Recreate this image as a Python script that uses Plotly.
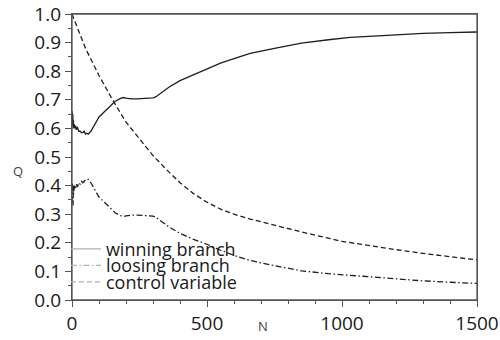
import plotly.graph_objects as go

# ---- data ----
n_win = [0, 1, 2, 3, 4, 5, 6, 8, 10, 13, 16, 20, 25, 30, 35, 40, 45, 50, 55, 60, 70, 80, 90, 100,
         120, 140, 160, 180, 190, 200, 220, 240, 260, 280, 300, 310, 330, 360, 400, 450, 500,
         550, 600, 660, 750, 850, 950, 1030, 1100, 1200, 1300, 1400, 1500]
q_win = [0.64, 0.66, 0.61, 0.65, 0.60, 0.63, 0.605, 0.615, 0.60, 0.61, 0.595, 0.605, 0.59, 0.59,
         0.585, 0.585, 0.59, 0.58, 0.583, 0.58, 0.59, 0.608, 0.625, 0.64,
         0.658, 0.678, 0.695, 0.705, 0.708, 0.706, 0.703, 0.703, 0.704, 0.705, 0.707, 0.71,
         0.725, 0.745, 0.767, 0.788, 0.808, 0.828, 0.844, 0.862, 0.880, 0.898, 0.910, 0.918,
         0.922, 0.928, 0.932, 0.935, 0.937]

n_lose = n_win
q_lose = [0.34, 0.41, 0.35, 0.39, 0.33, 0.40, 0.37, 0.39, 0.40, 0.39, 0.405, 0.395, 0.41, 0.405,
          0.415, 0.41, 0.415, 0.42, 0.418, 0.422, 0.41, 0.392, 0.375, 0.36,
          0.342, 0.322, 0.305, 0.295, 0.292, 0.294, 0.297, 0.297, 0.296, 0.295, 0.293, 0.29,
          0.275, 0.255, 0.233, 0.212, 0.195, 0.174, 0.156, 0.138, 0.120, 0.102, 0.092, 0.086,
          0.080, 0.073, 0.067, 0.062, 0.058]

n_ctrl = [0, 50, 100, 150, 200, 250, 300, 350, 400, 450, 500, 550, 600, 660, 750, 850, 1000,
          1100, 1200, 1300, 1400, 1500]
q_ctrl = [1.0, 0.88, 0.785, 0.70, 0.622, 0.562, 0.505, 0.456, 0.41, 0.372, 0.342, 0.318, 0.300,
          0.283, 0.261, 0.238, 0.205, 0.19, 0.176, 0.163, 0.151, 0.14]

series_names = ["winning branch", "loosing branch", "control variable"]
x_ticks = [0, 500, 1000, 1500]
y_ticks = [0.0, 0.1, 0.2, 0.3, 0.4, 0.5, 0.6, 0.7, 0.8, 0.9, 1.0]
y_tick_text = [f"{v:.1f}" for v in y_ticks]

FONT = "Open Sans"
LINE = "#1e1e1e"
AXC = "#555"
dashes = ["solid", "6px,2.5px,1.5px,2.5px", "5px,3px"]

fig = go.Figure()
for xs, ys, d in [(n_win, q_win, dashes[0]), (n_lose, q_lose, dashes[1]), (n_ctrl, q_ctrl, dashes[2])]:
    fig.add_trace(go.Scatter(x=xs, y=ys, mode="lines", showlegend=False,
                             line=dict(color=LINE, width=1.3, dash=d)))

# legend-only entries (light grey samples as in the reference), one small legend per row
legend_ids = ["legend", "legend2", "legend3"]
for name, d, lid in zip(series_names, dashes, legend_ids):
    fig.add_trace(go.Scatter(x=[None], y=[None], mode="lines", name=name, legend=lid,
                             line=dict(color="#b0b0b0", width=1.3, dash=d)))

leg_common = dict(x=-0.015, xanchor="left", yanchor="middle", bgcolor="rgba(0,0,0,0)",
                  font=dict(family=FONT, size=18, color="#1a1a1a"), itemwidth=30,
                  tracegroupgap=0)
layout_legends = {}
for lid, yy in zip(legend_ids, [0.178, 0.12, 0.062]):
    layout_legends[lid] = dict(y=yy, **leg_common)

axis_common = dict(showline=True, linecolor=AXC, linewidth=1.3, mirror=True,
                   ticks="outside", ticklen=6, tickwidth=1.2, tickcolor=AXC,
                   showgrid=False, zeroline=False, automargin=False,
                   ticklabeloverflow="allow",
                   tickfont=dict(family=FONT, size=19, color="#1a1a1a"))

fig.update_layout(
    width=500, height=340,
    margin=dict(l=72, r=23, t=14, b=40),
    paper_bgcolor="white", plot_bgcolor="white",
    xaxis=dict(range=[0, 1500], tickvals=x_ticks,
               minor=dict(dtick=100, ticks="outside", ticklen=3, tickcolor=AXC),
               **axis_common),
    yaxis=dict(range=[0, 1], tickvals=y_ticks, ticktext=y_tick_text,
               minor=dict(dtick=0.05, ticks="outside", ticklen=3, tickcolor=AXC),
               **axis_common),
    **layout_legends,
)

# plot frame (top and right edges as in the reference)
fig.add_shape(type="rect", xref="paper", yref="paper", x0=0, y0=0, x1=1, y1=1,
              line=dict(color=AXC, width=1.3), fillcolor="rgba(0,0,0,0)", layer="above")

fig.add_annotation(text="Q", xref="paper", yref="paper", x=-0.15, y=0.451,
                   showarrow=False, font=dict(family=FONT, size=13, color="#444"))
fig.add_annotation(text="N", xref="paper", yref="paper", x=0.472, y=-0.13,
                   showarrow=False, font=dict(family=FONT, size=13, color="#444"))

# remove the browser's default 8px body margin so the figure sits at the page origin
fig.write_html("out.html", config={"displayModeBar": False},
               post_script="document.body.style.margin='0';")
